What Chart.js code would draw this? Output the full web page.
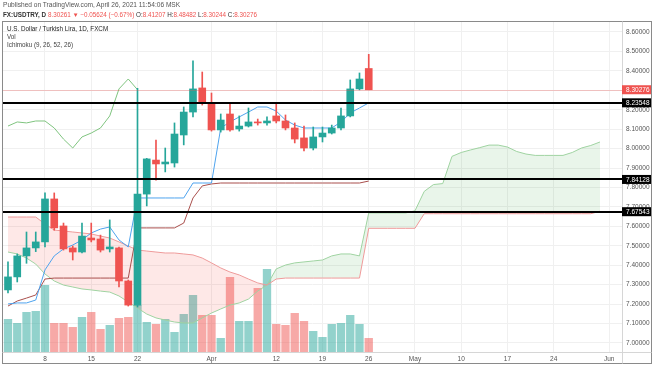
<!DOCTYPE html>
<html>
<head>
<meta charset="utf-8">
<script src="https://cdn.jsdelivr.net/npm/chart.js@4.4.0/dist/chart.umd.min.js"></script>
<style>
  html, body { margin: 0; padding: 0; background: #fff; }
  #wrap { position: relative; width: 654px; height: 366px; font-family: 'Liberation Sans', Arial, sans-serif; }
  #wrap canvas { position: absolute; left: 0; top: 0; }
  .txt { position: absolute; font-size: 6.3px; line-height: 8px; white-space: nowrap; color: #333; z-index: 2; }
  .red { color: #ef5350; }
  b { font-weight: bold; }
</style>
</head>
<body>
<div id="wrap">
  <canvas id="fxChart" width="654" height="366"></canvas>
  <div class="txt" style="left:3px;top:1px;color:#555;font-size:6.6px">Published on TradingView.com, April 26, 2021 11:54:06 MSK</div>
  <div class="txt" style="left:3px;top:11px"><b>FX:USDTRY, D</b> <span class="red">8.30261 ▼ −0.05624 (−0.67%)</span> O:<span class="red">8.41207</span> H:<span class="red">8.48482</span> L:<span class="red">8.30244</span> C:<span class="red">8.30276</span></div>
  <div class="txt" style="left:7px;top:25px;color:#222">U.S. Dollar / Turkish Lira, 1D, FXCM</div>
  <div class="txt" style="left:7px;top:33px;color:#444">Vol</div>
  <div class="txt" style="left:7px;top:41px;color:#444">Ichimoku (9, 26, 52, 26)</div>
</div>
<script>
// bara 0 = 2 martie 2021, o bară pe zi lucrătoare
const xTickPos = [4, 9, 14, 22, 29, 34, 39, 44, 49, 54, 59, 65];
const xTickLabels = ['8', '15', '22', 'Apr', '12', '19', '26', 'May', '10', '17', '24', 'Jun'];
const yTicks = [7.0, 7.1, 7.2, 7.3, 7.4, 7.5, 7.6, 7.7, 7.8, 7.9, 8.0, 8.1, 8.2, 8.3, 8.4, 8.5, 8.6];

const open  = [7.273, 7.340, 7.448, 7.489, 7.520, 7.741, 7.602, 7.489, 7.468, 7.540,
               7.535, 7.484, 7.489, 7.319, 7.195, 7.766, 7.941, 7.921, 7.926, 8.070,
               8.188, 8.312, 8.235, 8.096, 8.178, 8.101, 8.116, 8.137, 8.132, 8.168,
               8.142, 8.106, 8.055, 8.003, 8.060, 8.080, 8.106, 8.168, 8.307, 8.41207];
const high  = [7.417, 7.458, 7.571, 7.571, 7.772, 7.772, 7.617, 7.499, 7.617, 7.617,
               7.555, 7.633, 7.494, 7.324, 8.310, 7.950, 8.044, 8.003, 8.132, 8.214,
               8.451, 8.394, 8.286, 8.178, 8.235, 8.168, 8.209, 8.152, 8.163, 8.229,
               8.173, 8.132, 8.116, 8.111, 8.111, 8.121, 8.209, 8.353, 8.389, 8.48482];
const low   = [7.257, 7.314, 7.410, 7.470, 7.494, 7.580, 7.478, 7.427, 7.463, 7.520,
               7.468, 7.468, 7.288, 7.190, 7.185, 7.705, 7.838, 7.880, 7.905, 8.019,
               8.163, 8.224, 8.090, 8.085, 8.090, 8.090, 8.111, 8.121, 8.121, 8.132,
               8.096, 8.029, 7.988, 7.993, 8.034, 8.075, 8.096, 8.163, 8.302, 8.30244];
const close = [7.340, 7.448, 7.489, 7.520, 7.741, 7.592, 7.484, 7.468, 7.550, 7.530,
               7.478, 7.494, 7.319, 7.195, 7.766, 7.947, 7.921, 7.931, 8.075, 8.188,
               8.307, 8.235, 8.096, 8.147, 8.096, 8.116, 8.137, 8.132, 8.142, 8.142,
               8.106, 8.049, 8.003, 8.060, 8.080, 8.106, 8.168, 8.307, 8.358, 8.30276];
const volume = [33, 29, 40, 41, 67, 29, 29, 25, 35, 40, 23, 27, 34, 35, 47, 30, 28, 33, 20, 38,
                57, 37, 37, 14, 75, 31, 31, 64, 83, 28, 27, 39, 31, 21, 15, 28, 29, 37, 28, 14];

// Ichimoku
const tenkan = [7.201, 7.206, 7.206, 7.221, 7.376, 7.448, 7.484, 7.504, 7.530, 7.566,
                7.586, 7.597, 7.530, 7.494, 7.746, 7.746, 7.746, 7.746, 7.746, 7.746,
                7.823, 7.823, 7.823, 8.106, 8.137, 8.163, 8.188, 8.214, 8.214, 8.193,
                8.147, 8.121, 8.106, 8.106, 8.106, 8.106, 8.137, 8.183, 8.209, 8.235];
const kijun  = [7.190, 7.216, 7.231, 7.247, 7.329, 7.334, 7.334, 7.334, 7.334, 7.334,
                7.334, 7.334, 7.334, 7.334, 7.592, 7.592, 7.592, 7.592, 7.592, 7.617,
                7.746, 7.808, 7.818, 7.823, 7.823, 7.823, 7.823, 7.823, 7.823, 7.823,
                7.823, 7.823, 7.823, 7.823, 7.823, 7.823, 7.823, 7.823, 7.823, 7.833];
const chikou = [8.116, 8.137, 8.132, 8.142, 8.142, 8.106, 8.049, 8.003, 8.060, 8.080,
                8.106, 8.168, 8.307, 8.358, 8.303];
const spanA  = [7.468, 7.458, 7.437, 7.406, 7.355, 7.319, 7.298, 7.288, 7.278, 7.273,
                7.267, 7.262, 7.242, 7.211, 7.180, 7.149, 7.129, 7.118, 7.108, 7.103,
                7.103, 7.129, 7.154, 7.175, 7.195, 7.206, 7.226, 7.267, 7.298, 7.381,
                7.401, 7.412, 7.417, 7.422, 7.427, 7.448, 7.458, 7.458, 7.448, 7.669,
                7.669, 7.669, 7.669, 7.669, 7.680, 7.780, 7.815, 7.820, 7.960, 7.980,
                7.993, 8.005, 8.018, 8.018, 8.008, 7.985, 7.972, 7.965, 7.965, 7.965,
                7.965, 7.980, 8.003, 8.016, 8.034];
const spanB  = [7.648, 7.648, 7.648, 7.648, 7.612, 7.581, 7.576, 7.571, 7.566, 7.561,
                7.550, 7.540, 7.520, 7.499, 7.478, 7.473, 7.468, 7.463, 7.463, 7.458,
                7.453, 7.437, 7.412, 7.386, 7.365, 7.350, 7.329, 7.309, 7.298, 7.329,
                7.334, 7.334, 7.334, 7.334, 7.334, 7.334, 7.334, 7.334, 7.334, 7.590,
                7.590, 7.590, 7.590, 7.590, 7.590, 7.665, 7.665, 7.665, 7.665, 7.665,
                7.665, 7.665, 7.665, 7.665, 7.665, 7.665, 7.665, 7.665, 7.665, 7.665,
                7.665, 7.665, 7.665, 7.665, 7.678];

const levels = [8.23548, 7.84128, 7.67543];
const lastPrice = 8.30276;

const UP = '#26a69a', DOWN = '#ef5350';
const FONT = "'Liberation Sans', Arial, sans-serif";

const pts = arr => arr.map((v, i) => ({ x: i, y: v }));
const isUp = close.map((c, i) => c >= open[i]);
const candleColors = isUp.map(u => u ? UP : DOWN);
const volColors = isUp.map(u => u ? 'rgba(38,166,154,0.5)' : 'rgba(239,83,80,0.5)');

// linii orizontale, etichete pe axă și rama
const overlay = {
    id: 'overlay',
    afterDatasetsDraw(chart) {
        const { ctx, chartArea: a, scales: { y } } = chart;
        ctx.save();
        const py = Math.round(y.getPixelForValue(lastPrice)) + 0.5;
        ctx.strokeStyle = 'rgba(239,83,80,0.3)';
        ctx.lineWidth = 1;
        ctx.beginPath(); ctx.moveTo(a.left, py); ctx.lineTo(a.right, py); ctx.stroke();
        ctx.strokeStyle = '#000';
        ctx.lineWidth = 2;
        levels.forEach(v => {
            const yy = Math.round(y.getPixelForValue(v));
            ctx.beginPath(); ctx.moveTo(a.left, yy); ctx.lineTo(a.right, yy); ctx.stroke();
        });
        ctx.restore();
    },
    afterDraw(chart) {
        const { ctx, chartArea: a, scales: { y } } = chart;
        ctx.save();
        ctx.strokeStyle = '#8a8a8a';
        ctx.lineWidth = 1;
        ctx.strokeRect(2.5, 21.5, 649, 342);
        ctx.strokeStyle = '#d6d6d6';
        ctx.beginPath();
        ctx.moveTo(a.right + 0.5, 21.5); ctx.lineTo(a.right + 0.5, 363.5);
        ctx.moveTo(2.5, a.bottom + 0.5); ctx.lineTo(651.5, a.bottom + 0.5);
        ctx.stroke();
        const tag = (v, bg) => {
            const yy = y.getPixelForValue(v);
            ctx.fillStyle = bg;
            ctx.fillRect(a.right, yy - 4.5, 29, 9);
            ctx.fillStyle = '#fff';
            ctx.font = '6.5px ' + FONT;
            ctx.textBaseline = 'middle';
            ctx.fillText(v.toFixed(5), a.right + 4, yy + 0.5);
        };
        levels.forEach(v => tag(v, '#000'));
        tag(lastPrice, DOWN);
        ctx.restore();
    }
};

const ctx = document.getElementById('fxChart').getContext('2d');
new Chart(ctx, {
    type: 'bar',
    data: {
        datasets: [
            { type: 'bar', data: close.map((c, i) => ({ x: i, y: [low[i], high[i]] })),
              backgroundColor: candleColors, barThickness: 1, grouped: false, order: 1, yAxisID: 'y' },
            { type: 'bar', data: close.map((c, i) => ({ x: i, y: [open[i], c] })),
              backgroundColor: candleColors, barThickness: 7, minBarLength: 1, grouped: false, order: 0, yAxisID: 'y' },
            { type: 'bar', data: pts(volume), backgroundColor: volColors,
              barPercentage: 0.9, categoryPercentage: 1, grouped: false, order: 20, yAxisID: 'yv' },
            { type: 'line', data: pts(spanA), borderColor: '#9fd3a1', borderWidth: 1, pointRadius: 0,
              fill: { target: 4, above: 'rgba(76,175,80,0.12)', below: 'rgba(244,67,54,0.12)' }, order: 15, yAxisID: 'y' },
            { type: 'line', data: pts(spanB), borderColor: '#ef9a9a', borderWidth: 1, pointRadius: 0,
              fill: false, order: 14, yAxisID: 'y' },
            { type: 'line', data: pts(tenkan), borderColor: '#4ea3ee', borderWidth: 1, pointRadius: 0,
              fill: false, order: 5, yAxisID: 'y' },
            { type: 'line', data: pts(kijun), borderColor: '#a94f4c', borderWidth: 1, pointRadius: 0,
              fill: false, order: 5, yAxisID: 'y' },
            { type: 'line', data: pts(chikou), borderColor: '#7fc47f', borderWidth: 1, pointRadius: 0,
              fill: false, order: 5, yAxisID: 'y' }
        ]
    },
    options: {
        responsive: false,
        animation: false,
        events: [],
        layout: { padding: { left: 3, top: 22, right: 0, bottom: 0 } },
        plugins: { legend: { display: false }, tooltip: { enabled: false } },
        scales: {
            x: {
                type: 'linear', min: -0.54, max: 66.38, offset: false,
                grid: { color: '#f0f0f0', drawTicks: false, offset: false },
                border: { display: false },
                ticks: {
                    autoSkip: false, maxRotation: 0, padding: 3, color: '#555',
                    font: { size: 6.5, family: FONT },
                    callback: v => xTickLabels[xTickPos.indexOf(v)]
                },
                afterBuildTicks: s => { s.ticks = xTickPos.map(v => ({ value: v })); },
                afterFit: s => { s.height = 14; }
            },
            y: {
                position: 'right', min: 6.9537, max: 8.6512,
                grid: { color: '#f0f0f0', drawTicks: false },
                border: { display: false },
                ticks: {
                    padding: 4, color: '#555',
                    font: { size: 6.5, family: FONT },
                    callback: v => v.toFixed(5)
                },
                afterBuildTicks: s => { s.ticks = yTicks.map(v => ({ value: v })); },
                afterFit: s => { s.width = 32; }
            },
            yv: { display: false, min: 0, max: 330 }
        }
    },
    plugins: [overlay]
});
</script>
</body>
</html>
